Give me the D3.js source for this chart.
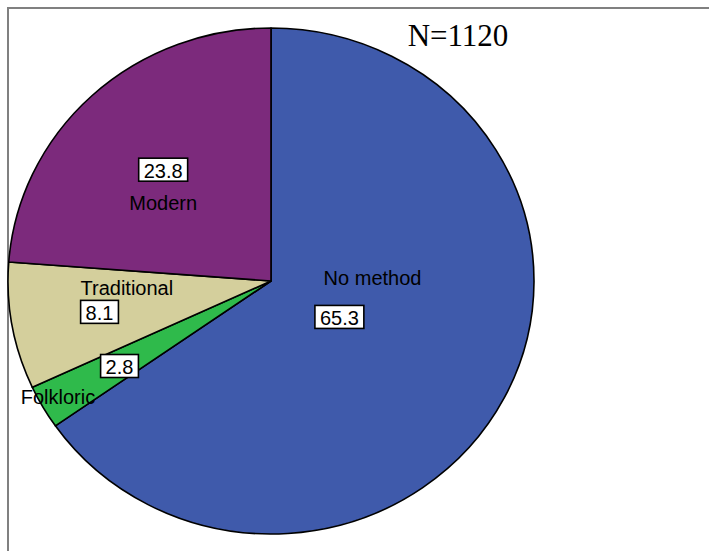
<!DOCTYPE html>
<html>
<head>
<meta charset="utf-8">
<script src="https://cdn.jsdelivr.net/npm/d3@7"></script>
<style>
  html, body { margin: 0; padding: 0; background: #fff; }
  svg { display: block; }
  .lbl { font-family: "Liberation Sans", Arial, sans-serif; font-size: 20px; fill: #000; }
  .title { font-family: "Liberation Serif", "Times New Roman", serif; font-size: 31px; fill: #000; }
</style>
</head>
<body>
<div id="chart"></div>
<script>
'use strict';

// data, in drawing order (clockwise from 12 o'clock)
const categories = ["No method", "Folkloric", "Traditional", "Modern"];
const percents = [65.3, 2.8, 8.1, 23.8];
const colors = ["#3f5aab", "#2fba4b", "#d4cf9c", "#7c2a7c"];
const totalN = 1120;

const width = 709, height = 551;
const cx = 271, cy = 281, rx = 263, ry = 253;

// label placement relative to pie, as fractions of the radii
const labelLayout = [
  { name: [0.386, -0.012], value: [0.26, 0.142] },
  { name: [-0.81, 0.46], value: [-0.576, 0.336] },
  { name: [-0.548, 0.028], value: [-0.652, 0.122] },
  { name: [-0.41, -0.31], value: [-0.41, -0.44] }
];

const sx = d3.scaleLinear().domain([-1, 1]).range([cx - rx, cx + rx]);
const sy = d3.scaleLinear().domain([-1, 1]).range([cy - ry, cy + ry]);

const svg = d3.select('#chart').append('svg')
  .attr('width', width)
  .attr('height', height);

// frame (left + top only)
svg.append('path')
  .attr('d', `M8,${height} L8,8 L${width},8`)
  .attr('fill', 'none')
  .attr('stroke', '#808080')
  .attr('stroke-width', 2);

const data = categories.map((c, i) => ({ name: c, value: percents[i], color: colors[i], layout: labelLayout[i] }));

const pie = d3.pie().sort(null).value(d => d.value);
const arc = d3.arc().innerRadius(0).outerRadius(rx);

const g = svg.append('g')
  .attr('transform', `translate(${cx},${cy}) scale(1,${ry / rx})`);

g.selectAll('path.slice').data(pie(data)).enter()
  .append('path')
  .attr('class', 'slice')
  .attr('d', arc)
  .attr('fill', d => d.data.color)
  .attr('stroke', '#000')
  .attr('stroke-width', 1.6)
  .attr('vector-effect', 'non-scaling-stroke')
  .attr('stroke-linejoin', 'round');

// category names
svg.selectAll('text.name').data(data).enter()
  .append('text')
  .attr('class', 'lbl name')
  .attr('x', d => sx(d.layout.name[0]))
  .attr('y', d => sy(d.layout.name[1]))
  .attr('text-anchor', 'middle')
  .attr('dominant-baseline', 'central')
  .text(d => d.name);

// value boxes
const vals = svg.selectAll('g.val').data(data).enter()
  .append('g')
  .attr('class', 'val')
  .attr('transform', d => `translate(${sx(d.layout.value[0])},${sy(d.layout.value[1])})`);

vals.append('rect').attr('fill', '#fff').attr('stroke', '#000').attr('stroke-width', 1.6);
vals.append('text')
  .attr('class', 'lbl')
  .attr('text-anchor', 'middle')
  .attr('dominant-baseline', 'central')
  .attr('y', 1)
  .text(d => d.value.toFixed(1));

vals.each(function() {
  const t = d3.select(this).select('text').node().getBBox();
  d3.select(this).select('rect')
    .attr('x', -t.width / 2 - 5)
    .attr('y', -11.5)
    .attr('width', t.width + 10)
    .attr('height', 23);
});

svg.append('text')
  .attr('class', 'title')
  .attr('x', 458)
  .attr('y', 46)
  .attr('text-anchor', 'middle')
  .text('N=' + totalN);
</script>
</body>
</html>
